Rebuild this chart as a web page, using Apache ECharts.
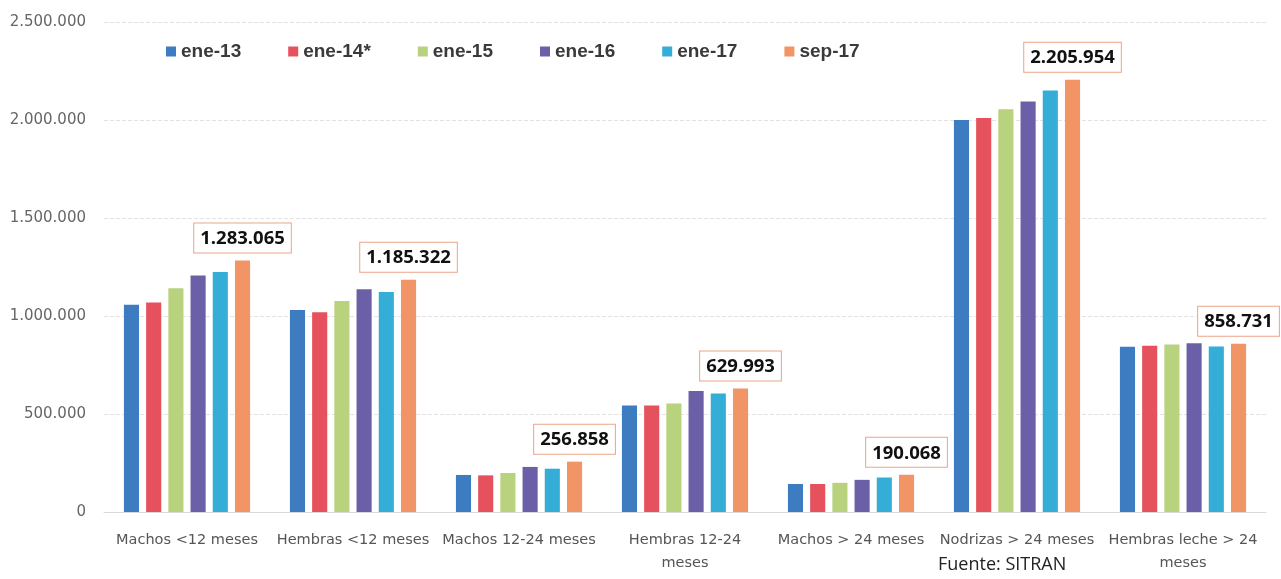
<!DOCTYPE html>
<html>
<head>
<meta charset="utf-8">
<title>Censo bovino SITRAN</title>
<script src="https://cdn.jsdelivr.net/npm/echarts@6/dist/echarts.min.js"></script>
<style>
  html, body { margin: 0; padding: 0; background: #fff; }
  #chart { width: 1281px; height: 579px; }
</style>
</head>
<body>
<div id="chart"></div>
<script>
// categorías del eje x
const categories = [
  'Machos <12 meses',
  'Hembras <12 meses',
  'Machos 12-24 meses',
  'Hembras 12-24\nmeses',
  'Machos > 24 meses',
  'Nodrizas > 24 meses',
  'Hembras leche > 24\nmeses'
]

const seriesNames = ['ene-13', 'ene-14*', 'ene-15', 'ene-16', 'ene-17', 'sep-17']

// valores (los de sep-17 vienen etiquetados)
const ene13 = [1058000, 1031000, 189000, 544000, 143000, 2000000, 843000]
const ene14 = [1069000, 1019000, 187000, 544000, 143000, 2010000, 848000]
const ene15 = [1141000, 1076000, 199000, 553000, 149000, 2055000, 855000]
const ene16 = [1206000, 1136000, 230000, 617000, 164000, 2095000, 861000]
const ene17 = [1224000, 1122000, 221000, 604000, 176000, 2150000, 845000]
const sep17 = [1283065, 1185322, 256858, 629993, 190068, 2205954, 858731]

const yTicks = [0, 500000, 1000000, 1500000, 2000000, 2500000]

const colors = ['#3d7cc0', '#e5525e', '#b8d27e', '#6b60a8', '#34aed6', '#f19466']

const fmt = v => String(v).replace(/\B(?=(\d{3})+(?!\d))/g, '.')

const chart = echarts.init(document.getElementById('chart'))

const values = [ene13, ene14, ene15, ene16, ene17, sep17]

const series = seriesNames.map((name, i) => ({
  name,
  type: 'bar',
  data: values[i],
  barGap: '47%',
  barCategoryGap: '24%',
  itemStyle: { color: colors[i] },
  label: i === 5 ? {
    show: true,
    position: 'top',
    distance: 8,
    formatter: p => fmt(p.value),
    fontFamily: 'Open Sans',
    fontWeight: 'bold',
    fontSize: 18.5,
    color: '#111',
    backgroundColor: '#fff',
    borderColor: '#eba487',
    borderWidth: 1,
    padding: [6, 6, 4, 6]
  } : { show: false }
}))

chart.setOption({
  animation: false,
  color: colors,
  grid: { left: 104, right: 15, top: 22, bottom: 67 },
  legend: {
    top: 37,
    left: 161,
    itemWidth: 10,
    itemHeight: 10,
    itemGap: 47,
    icon: 'rect',
    textStyle: {
      fontFamily: 'Liberation Sans',
      fontSize: 19,
      fontWeight: 'bold',
      color: '#3a3a3a'
    },
    data: seriesNames
  },
  xAxis: {
    type: 'category',
    data: categories,
    axisTick: { show: false },
    axisLine: { lineStyle: { color: '#d9d9d9' } },
    axisLabel: {
      interval: 0,
      margin: 17,
      fontFamily: 'DejaVu Sans',
      fontSize: 14.5,
      lineHeight: 23,
      color: '#555'
    }
  },
  yAxis: {
    type: 'value',
    min: yTicks[0],
    max: yTicks[yTicks.length - 1],
    interval: 500000,
    axisLabel: {
      margin: 18,
      fontFamily: 'DejaVu Sans',
      fontSize: 15,
      color: '#666',
      formatter: v => fmt(v)
    },
    splitLine: { lineStyle: { color: '#e3e3e3', type: 'dashed' } }
  },
  graphic: [{
    type: 'text',
    left: 938,
    top: 556,
    style: {
      text: 'Fuente: SITRAN',
      font: '18px "Open Sans"',
      fill: '#222'
    }
  }],
  series
})
</script>
</body>
</html>
